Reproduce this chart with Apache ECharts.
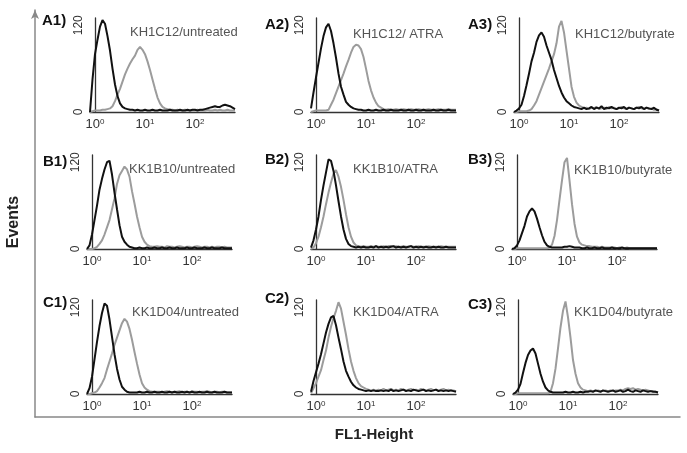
<!DOCTYPE html>
<html><head><meta charset="utf-8">
<script src="https://cdn.jsdelivr.net/npm/echarts@6/dist/echarts.min.js"></script>
<style>html,body{margin:0;padding:0;background:#fff}#c{width:687px;height:453px}</style>
</head><body><div id="c"></div>
<script>
// log10(FL1-Height) bin centres, shared by all histograms
const bins = [-0.1,-0.05,0,0.05,0.1,0.15,0.2,0.25,0.3,0.35,
  0.4,0.45,0.5,0.55,0.6,0.65,0.7,0.75,0.8,0.85,
  0.9,0.95,1,1.05,1.1,1.15,1.2,1.25,1.3,1.35,
  1.4,1.45,1.5,1.55,1.6,1.65,1.7,1.75,1.8,1.85,
  1.9,1.95,2,2.05,2.1,2.15,2.2,2.25,2.3,2.35,
  2.4,2.45,2.5,2.55,2.6,2.65,2.7,2.75,2.8];
const xTickLabels = ['10{s|0}','10{s|1}','10{s|2}'];
const yTickLabels = [0, 120];
const panelIds = ['A1)','A2)','A3)','B1)','B2)','B3)','C1)','C2)','C3)'];
const sampleNames = ['KH1C12/untreated','KH1C12/ ATRA','KH1C12/butyrate',
  'KK1B10/untreated','KK1B10/ATRA','KK1B10/butyrate',
  'KK1D04/untreated','KK1D04/ATRA','KK1D04/butyrate'];

// black = control, gray = stained
const A1_black = [0,45,80,100,118,127,122,105,85,60, 38,22,12,7,5,4,3,3,2,3, 2,2,3,2,2,3,2,2,3,2, 2,2,3,2,2,2,3,2,2,3, 2,3,3,2,3,3,4,5,6,7, 8,7,7,9,10,9,8,6,4];
const A1_gray  = [0,1,2,2,2,3,3,4,5,8, 15,24,32,42,52,60,67,73,78,86, 90,86,80,70,58,45,32,20,12,7, 5,4,3,3,2,3,2,2,3,2, 2,2,2,3,2,2,2,3,2,2, 3,2,3,2,2,3,2,2,2];
const A2_black = [5,27,48,68,88,105,117,122,112,95, 75,53,35,24,14,10,7,5,4,3, 3,2,2,3,2,2,3,2,2,3, 2,2,3,2,2,2,3,2,2,3, 2,2,3,2,2,3,2,2,2,3, 2,2,3,2,2,3,2,2,2];
const A2_gray  = [0,1,2,2,2,2,2,3,10,17, 26,35,44,53,63,72,82,90,93,92, 87,76,60,43,30,20,13,8,6,4, 3,4,3,3,4,3,3,4,3,3, 4,3,3,4,3,3,3,4,3,3, 3,4,3,3,3,4,3,3,3];
const A3_black = [0,2,5,10,22,37,53,70,82,97, 106,110,104,92,82,72,58,47,36,27, 20,15,12,9,7,6,5,4,6,4, 5,7,4,6,5,8,4,6,5,7, 5,4,6,5,7,4,6,5,4,6, 5,7,4,6,5,4,6,3,2];
const A3_gray  = [0,0,1,1,1,1,2,4,9,15, 24,33,42,51,60,70,80,95,118,126, 110,85,60,35,21,13,9,7,5,6, 4,6,5,7,4,5,6,4,7,5, 6,4,5,7,5,4,6,5,4,6, 7,5,4,6,4,5,3,4,2];
const B1_black = [0,5,20,40,60,82,97,110,120,122, 103,78,55,33,17,10,6,3,2,1, 1,2,1,1,2,1,1,2,1,1, 2,1,1,2,1,1,2,1,1,1, 2,1,1,2,1,1,1,2,1,1, 2,1,1,1,2,1,1,1,1];
const B1_gray  = [0,0,0,1,3,7,12,20,30,40, 55,70,90,102,108,114,110,100,80,63, 45,30,17,10,6,4,3,3,4,3, 3,2,4,3,3,2,3,4,3,2, 3,3,2,3,4,3,2,3,3,2, 3,2,3,3,2,3,2,2,2];
const B2_black = [2,12,27,45,68,88,106,124,122,108, 88,66,45,27,14,7,4,3,2,3, 2,3,2,2,3,2,4,2,3,2, 3,2,3,4,2,3,2,3,2,3, 4,2,3,2,3,2,3,2,2,3, 2,3,2,2,3,2,2,2,2];
const B2_gray  = [0,2,8,17,30,45,62,78,92,104, 109,100,86,68,48,30,17,9,5,4, 3,4,3,3,4,3,4,3,3,4, 3,4,4,3,4,3,3,4,3,3, 4,3,3,4,3,3,3,4,3,3, 3,3,4,3,3,3,3,3,3];
const B3_black = [0,1,5,12,22,32,45,52,56,52, 42,30,19,10,5,3,2,2,2,2, 2,3,3,4,3,2,2,2,1,1, 2,1,1,2,1,1,2,1,1,1, 2,1,1,1,2,1,1,1,1,1, 1,1,1,1,1,1,1,1,1];
const B3_gray  = [0,0,1,1,1,1,1,1,1,1, 1,1,1,1,1,2,6,18,40,68, 95,120,126,95,62,35,17,9,6,5, 4,4,3,3,3,2,3,2,2,2, 2,2,1,2,1,1,2,1,1,1, 1,1,1,1,1,1,1,1,1];
const C1_black = [0,8,24,48,72,94,112,125,122,103, 79,55,35,20,10,6,3,2,2,2, 2,3,2,2,3,2,2,3,2,2, 3,2,2,3,2,3,2,2,3,2, 3,2,3,2,2,3,2,2,3,2, 2,3,2,2,2,3,2,2,2];
const C1_gray  = [0,0,1,2,4,9,15,22,34,45, 56,68,78,88,98,104,100,90,75,58, 42,27,15,9,6,4,3,3,3,3, 2,3,4,3,2,3,3,4,2,3, 3,2,4,3,3,2,3,3,4,3, 2,3,3,2,3,3,2,2,2];
const C2_black = [3,18,30,42,55,70,85,97,106,108, 95,78,62,45,32,24,17,12,9,7, 6,5,4,5,4,5,4,4,5,4, 5,4,6,4,5,4,5,6,4,5, 4,6,5,4,5,6,4,5,4,5, 6,4,5,4,5,4,5,4,3];
const C2_gray  = [1,8,15,24,33,47,60,78,93,105, 115,127,118,100,82,62,45,32,22,15, 11,9,7,6,5,6,5,6,5,7, 5,6,7,5,6,5,7,6,5,6, 7,5,6,5,7,6,5,6,7,5, 6,5,6,7,5,6,5,5,4];
const C3_black = [0,2,6,14,29,43,54,60,63,56, 42,28,17,9,5,3,2,2,2,2, 2,3,2,2,3,2,2,3,2,3, 3,4,3,5,4,3,5,4,3,4, 5,3,4,5,3,4,6,4,3,5, 4,3,5,4,3,4,3,3,2];
const C3_gray  = [0,0,1,1,1,1,1,1,1,1, 1,1,1,1,1,3,15,35,63,92, 115,128,106,78,47,28,15,9,6,5, 4,5,4,4,5,4,4,5,4,5, 4,5,5,6,5,7,8,7,8,6, 7,6,5,6,5,4,4,3,2];

const blackSets = [A1_black,A2_black,A3_black,B1_black,B2_black,B3_black,C1_black,C2_black,C3_black];
const graySets  = [A1_gray,A2_gray,A3_gray,B1_gray,B2_gray,B3_gray,C1_gray,C2_gray,C3_gray];

// layout
const gridLefts = [[90,311,514],[87,311,512],[87,311,513]];
const gridTops = [18,155,300];
const GW = 145, GH = 94;
const labelPos = [[42,21],[265,25],[468,25],[43,162],[265,160],[468,160],[43,303],[265,299],[468,305]];
const notePos = [[130,33],[353,35],[575,35],[129,170],[353,170],[574,171],[132,313],[353,313],[574,313]];

const FONT = '"Liberation Sans", Arial, Helvetica, sans-serif';
const grids = [], xAxes = [], yAxes = [], series = [], graphics = [];
for (let r = 0; r < 3; r++) for (let c = 0; c < 3; c++) {
  const i = r * 3 + c;
  grids.push({left: gridLefts[r][c], top: gridTops[r], width: GW, height: GH});
  xAxes.push({
    gridIndex: i, type: 'value', min: -0.1, max: 2.8,
    axisLine: {show: true, onZero: false, lineStyle: {color: '#333', width: 1.3}},
    axisTick: {show: false}, splitLine: {show: false},
    axisLabel: {
      margin: 6, color: '#333', fontSize: 13, fontFamily: FONT,
      showMinLabel: false, showMaxLabel: false,
      formatter: function (v) {
        const k = Math.round(v);
        if (Math.abs(v - k) < 1e-6 && k >= 0 && k < xTickLabels.length) return xTickLabels[k];
        return '';
      },
      rich: {s: {fontSize: 8, verticalAlign: 'top', fontFamily: FONT, color: '#333', padding: [0, 0, 5, 0]}}
    }
  });
  yAxes.push({
    gridIndex: i, type: 'value', min: 0, max: 130, interval: 120,
    axisLine: {show: true, lineStyle: {color: '#333', width: 1.3}},
    axisTick: {show: false}, splitLine: {show: false},
    axisLabel: {
      rotate: 90, margin: 5, color: '#333', fontSize: 12, fontFamily: FONT,
      showMaxLabel: false,
      formatter: function (v) { return yTickLabels.indexOf(v) >= 0 ? String(v) : ''; }
    }
  });
  series.push({
    type: 'line', xAxisIndex: i, yAxisIndex: i, symbol: 'none', silent: true,
    lineStyle: {color: '#9c9c9c', width: 2}, z: 2,
    data: bins.map((b, k) => [b, graySets[i][k]])
  });
  series.push({
    type: 'line', xAxisIndex: i, yAxisIndex: i, symbol: 'none', silent: true,
    lineStyle: {color: '#111', width: 2}, z: 3,
    data: bins.map((b, k) => [b, blackSets[i][k]])
  });
  graphics.push({type: 'text', left: labelPos[i][0], top: labelPos[i][1] - 8,
    style: {text: panelIds[i], font: 'bold 15px ' + FONT, fill: '#111'}});
  graphics.push({type: 'text', left: notePos[i][0], top: notePos[i][1] - 7,
    style: {text: sampleNames[i], font: '13px ' + FONT, fill: '#555'}});
}
// outer frame axes
grids.push({left: 35, top: 10, width: 645, height: 407});
xAxes.push({gridIndex: 9, type: 'value', min: 0, max: 1,
  axisLine: {show: true, onZero: false, lineStyle: {color: '#888', width: 1.5}},
  axisTick: {show: false}, axisLabel: {show: false}, splitLine: {show: false}});
yAxes.push({gridIndex: 9, type: 'value', min: 0, max: 1,
  axisLine: {show: true, onZero: false, symbol: ['none', 'arrow'], symbolSize: [6, 9], lineStyle: {color: '#888', width: 1.5}},
  axisTick: {show: false}, axisLabel: {show: false}, splitLine: {show: false}});
graphics.push({type: 'text', x: 14, y: 222, rotation: Math.PI / 2,
  style: {text: 'Events', font: 'bold 16px ' + FONT, fill: '#222', align: 'center', verticalAlign: 'middle'}});
graphics.push({type: 'text', x: 374, y: 435,
  style: {text: 'FL1-Height', font: 'bold 15px ' + FONT, fill: '#222', align: 'center', verticalAlign: 'middle'}});

const chart = echarts.init(document.getElementById('c'), null, {renderer: 'canvas'});
chart.setOption({
  animation: false,
  backgroundColor: '#fff',
  textStyle: {fontFamily: FONT},
  grid: grids, xAxis: xAxes, yAxis: yAxes, series: series, graphic: graphics
});
</script></body></html>
